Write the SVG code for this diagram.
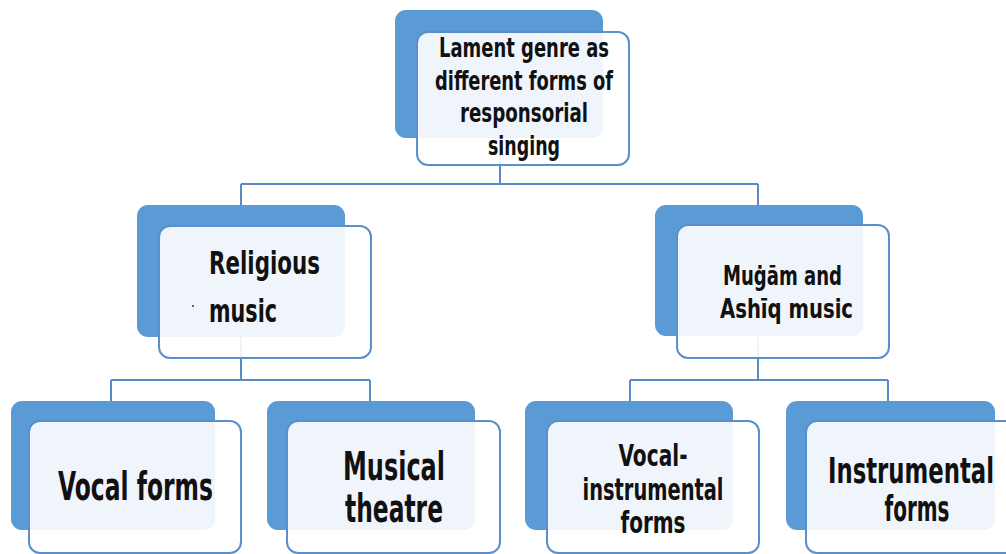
<svg xmlns="http://www.w3.org/2000/svg" width="1006" height="554" viewBox="0 0 1006 554">
<style>
.back{fill:#5b9bd5;}
.front{fill:#ffffff;fill-opacity:0.9;stroke:#5b8fcb;stroke-width:2;}
.conn{stroke:#5a8ac6;stroke-width:2;fill:none;}
text{font-family:"DejaVu Sans","Liberation Sans",sans-serif;font-stretch:condensed;font-weight:bold;fill:#111;}
</style>
<rect width="1006" height="554" fill="#ffffff"/>
<g id="connectors">
<path class="conn" d="M500,138 V184 M241,184 H758 M241,184 V205 M758,184 V205"/>
<path class="conn" d="M241,337 V380 M111,380 H370 M111,380 V401 M370,380 V401"/>
<path class="conn" d="M758,337 V380 M630,380 H888 M630,380 V401 M888,380 V401"/>
</g>
<g id="node-top">
<rect class="back" x="395" y="10" width="208" height="128" rx="11"/>
<rect class="front" x="417" y="32" width="212" height="133" rx="11"/>
<text x="524" y="57" font-size="27" text-anchor="middle" textLength="170" lengthAdjust="spacingAndGlyphs">Lament genre as</text>
<text x="524" y="90" font-size="27" text-anchor="middle" textLength="178" lengthAdjust="spacingAndGlyphs">different forms of</text>
<text x="524" y="122" font-size="27" text-anchor="middle" textLength="128" lengthAdjust="spacingAndGlyphs">responsorial</text>
<text x="524" y="155" font-size="27" text-anchor="middle" textLength="72" lengthAdjust="spacingAndGlyphs">singing</text>
</g>
<g id="node-religious">
<rect class="back" x="137" y="205" width="208" height="132" rx="11"/>
<rect class="front" x="159" y="226" width="212" height="132" rx="11"/>
<text x="209" y="274" font-size="32" textLength="111" lengthAdjust="spacingAndGlyphs">Religious</text>
<text x="209" y="322" font-size="32" textLength="68" lengthAdjust="spacingAndGlyphs">music</text>
<circle cx="193" cy="306" r="1" fill="#333"/>
</g>
<g id="node-mugam">
<rect class="back" x="655" y="205" width="208" height="131" rx="11"/>
<rect class="front" x="677" y="225" width="212" height="133" rx="11"/>
<text x="723" y="285" font-size="27" textLength="119" lengthAdjust="spacingAndGlyphs">Muġām and</text>
<text x="720" y="318" font-size="27" textLength="133" lengthAdjust="spacingAndGlyphs">Ashīq music</text>
</g>
<g id="node-vocal">
<rect class="back" x="11" y="401" width="204" height="129" rx="11"/>
<rect class="front" x="29" y="421" width="212" height="132" rx="11"/>
<text x="58" y="500" font-size="39" textLength="155" lengthAdjust="spacingAndGlyphs">Vocal forms</text>
</g>
<g id="node-theatre">
<rect class="back" x="267" y="401" width="208" height="129" rx="11"/>
<rect class="front" x="287" y="421" width="213" height="132" rx="11"/>
<text x="394" y="480" font-size="39" text-anchor="middle" textLength="102" lengthAdjust="spacingAndGlyphs">Musical</text>
<text x="394" y="522" font-size="39" text-anchor="middle" textLength="98" lengthAdjust="spacingAndGlyphs">theatre</text>
</g>
<g id="node-vocal-instrumental">
<rect class="back" x="525" y="401" width="208" height="129" rx="11"/>
<rect class="front" x="547" y="421" width="212" height="132" rx="11"/>
<text x="653" y="466" font-size="30" text-anchor="middle" textLength="69" lengthAdjust="spacingAndGlyphs">Vocal-</text>
<text x="653" y="500" font-size="30" text-anchor="middle" textLength="141" lengthAdjust="spacingAndGlyphs">instrumental</text>
<text x="653" y="533" font-size="30" text-anchor="middle" textLength="65" lengthAdjust="spacingAndGlyphs">forms</text>
</g>
<g id="node-instrumental">
<rect class="back" x="786" y="401" width="209" height="129" rx="11"/>
<rect class="front" x="806" y="421" width="214" height="132" rx="11"/>
<text x="911" y="483" font-size="36" text-anchor="middle" textLength="166" lengthAdjust="spacingAndGlyphs">Instrumental</text>
<text x="917" y="521" font-size="36" text-anchor="middle" textLength="65" lengthAdjust="spacingAndGlyphs">forms</text>
</g>
</svg>
